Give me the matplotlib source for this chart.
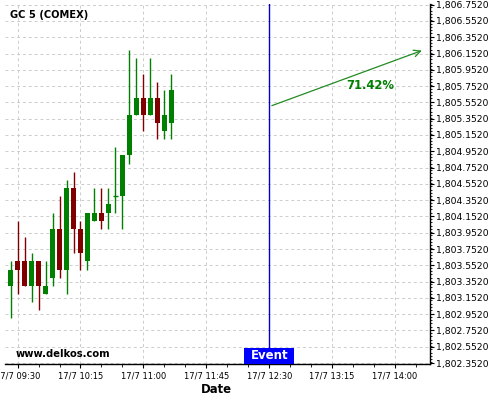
import matplotlib
matplotlib.use('Agg')
import matplotlib.pyplot as plt
import matplotlib.dates as mdates
from matplotlib.patches import Rectangle
from matplotlib.ticker import FixedLocator, MultipleLocator, FuncFormatter
import pandas as pd

# candles, 5 min bars starting 17/7 09:25
start = '2020-07-17 09:25'
opens  = [1803.3, 1803.6, 1803.6, 1803.3, 1803.6, 1803.2, 1803.4, 1804.0, 1803.5, 1804.5, 1804.0, 1803.6,
          1804.1, 1804.2, 1804.2, 1804.4, 1804.4, 1804.9, 1805.4, 1805.6, 1805.4, 1805.6, 1805.2, 1805.3]
highs  = [1803.6, 1804.1, 1803.9, 1803.7, 1803.6, 1803.6, 1804.2, 1804.4, 1804.6, 1804.7, 1804.1, 1804.2,
          1804.5, 1804.5, 1804.5, 1805.0, 1804.9, 1806.2, 1806.1, 1805.9, 1806.1, 1805.8, 1805.7, 1805.9]
lows   = [1802.9, 1803.2, 1803.3, 1803.1, 1803.0, 1803.2, 1803.3, 1803.4, 1803.2, 1803.7, 1803.5, 1803.5,
          1804.1, 1804.0, 1804.0, 1804.2, 1804.0, 1804.8, 1805.4, 1805.2, 1805.4, 1805.1, 1805.1, 1805.1]
closes = [1803.5, 1803.5, 1803.3, 1803.6, 1803.3, 1803.3, 1804.0, 1803.5, 1804.5, 1804.0, 1803.7, 1804.2,
          1804.2, 1804.1, 1804.3, 1804.4, 1804.9, 1805.4, 1805.6, 1805.4, 1805.6, 1805.3, 1805.4, 1805.7]

event_time = '2020-07-17 12:30'
event_price = 1805.5
target_time = '2020-07-17 14:21'
target_price = 1806.2
prob_label = '71.42%'
label_time = '2020-07-17 13:42'
label_price = 1805.76

xmin, xmax = '2020-07-17 09:21', '2020-07-17 14:25'
ymin, ymax = 1802.345, 1806.76
ytick_start, ytick_step, ytick_n = 1802.352, 0.2, 23
xticks = ['2020-07-17 09:30', '2020-07-17 10:15', '2020-07-17 11:00', '2020-07-17 11:45',
          '2020-07-17 12:30', '2020-07-17 13:15', '2020-07-17 14:00']

times = pd.date_range(start, periods=len(opens), freq='5min')
x = mdates.date2num(times)
bar_w = 3.4 / (24 * 60)

fig = plt.figure(figsize=(5, 4), dpi=100)
ax = fig.add_axes([0.01, 0.091, 0.85, 0.899])

up_col, dn_col = '#008000', '#800000'
for xi, o, h, l, c in zip(x, opens, highs, lows, closes):
    col = up_col if c >= o else dn_col
    ax.vlines(xi, l, h, color=col, linewidth=1, zorder=3)
    body = abs(c - o)
    if body < 0.01:
        ax.hlines(o, xi - bar_w / 2, xi + bar_w / 2, color=col, linewidth=1, zorder=3)
    else:
        ax.bar(xi, body, bottom=min(o, c), width=bar_w, color=col, zorder=4, linewidth=0)

ev = mdates.date2num(pd.Timestamp(event_time))
ax.axvline(ev, color='#0000cc', linewidth=1, zorder=2)
ax.annotate('', xy=(mdates.date2num(pd.Timestamp(target_time)), target_price),
            xytext=(ev, event_price),
            arrowprops=dict(arrowstyle='->', color='#228b22', linewidth=0.9, mutation_scale=12))
ax.text(mdates.date2num(pd.Timestamp(label_time)), label_price, prob_label, color='#008000',
        fontsize=8.4, fontweight='bold', ha='center', va='center')

# event tag sitting on the bottom axis
half_w = 17.9 / (24 * 60)
ax.add_patch(Rectangle((ev - half_w, 0), 2 * half_w, 0.0445, transform=ax.get_xaxis_transform(),
                       facecolor='#0000ff', edgecolor='none', zorder=5, clip_on=False))
ax.text(ev, 0.0234, 'Event', transform=ax.get_xaxis_transform(), color='white', fontsize=8.5,
        fontweight='bold', ha='center', va='center', zorder=6)

ax.text(0.012, 0.97, 'GC 5 (COMEX)', transform=ax.transAxes, fontsize=7.1, fontweight='bold',
        ha='left', va='center')
ax.text(0.024, 0.027, 'www.delkos.com', transform=ax.transAxes, fontsize=7.2, fontweight='bold',
        ha='left', va='center')

ax.set_xlim(mdates.date2num(pd.Timestamp(xmin)), mdates.date2num(pd.Timestamp(xmax)))
ax.set_ylim(ymin, ymax)

ax.xaxis.set_major_locator(FixedLocator(mdates.date2num(pd.to_datetime(xticks))))
ax.xaxis.set_major_formatter(mdates.DateFormatter('%d/%-m %H:%M'))
ax.xaxis.set_minor_locator(mdates.MinuteLocator(byminute=[0, 15, 30, 45]))
yt = [ytick_start + ytick_step * i for i in range(ytick_n)]
ax.yaxis.set_major_locator(FixedLocator(yt))
ax.yaxis.set_minor_locator(MultipleLocator(0.04))
ax.yaxis.set_major_formatter(FuncFormatter(lambda v, p: '{:,.4f}'.format(v)))
ax.yaxis.tick_right()
ax.tick_params(axis='y', labelsize=6.7, length=3, pad=1)
ax.tick_params(axis='y', which='minor', length=1.5)
ax.tick_params(axis='x', labelsize=6, length=3, pad=3)
ax.tick_params(axis='x', which='minor', length=2)

ax.grid(True, which='major', linestyle=(0, (3, 3)), color='#cccccc', linewidth=0.7)
for s in ['left', 'top']:
    ax.spines[s].set_visible(False)
ax.spines['bottom'].set_linewidth(1)
ax.spines['right'].set_linewidth(1)

ax.set_xlabel('Date', fontsize=8.4, fontweight='bold', va='center')
ax.xaxis.set_label_coords(0.497, -0.071)

fig.savefig('out.png', dpi=100)
